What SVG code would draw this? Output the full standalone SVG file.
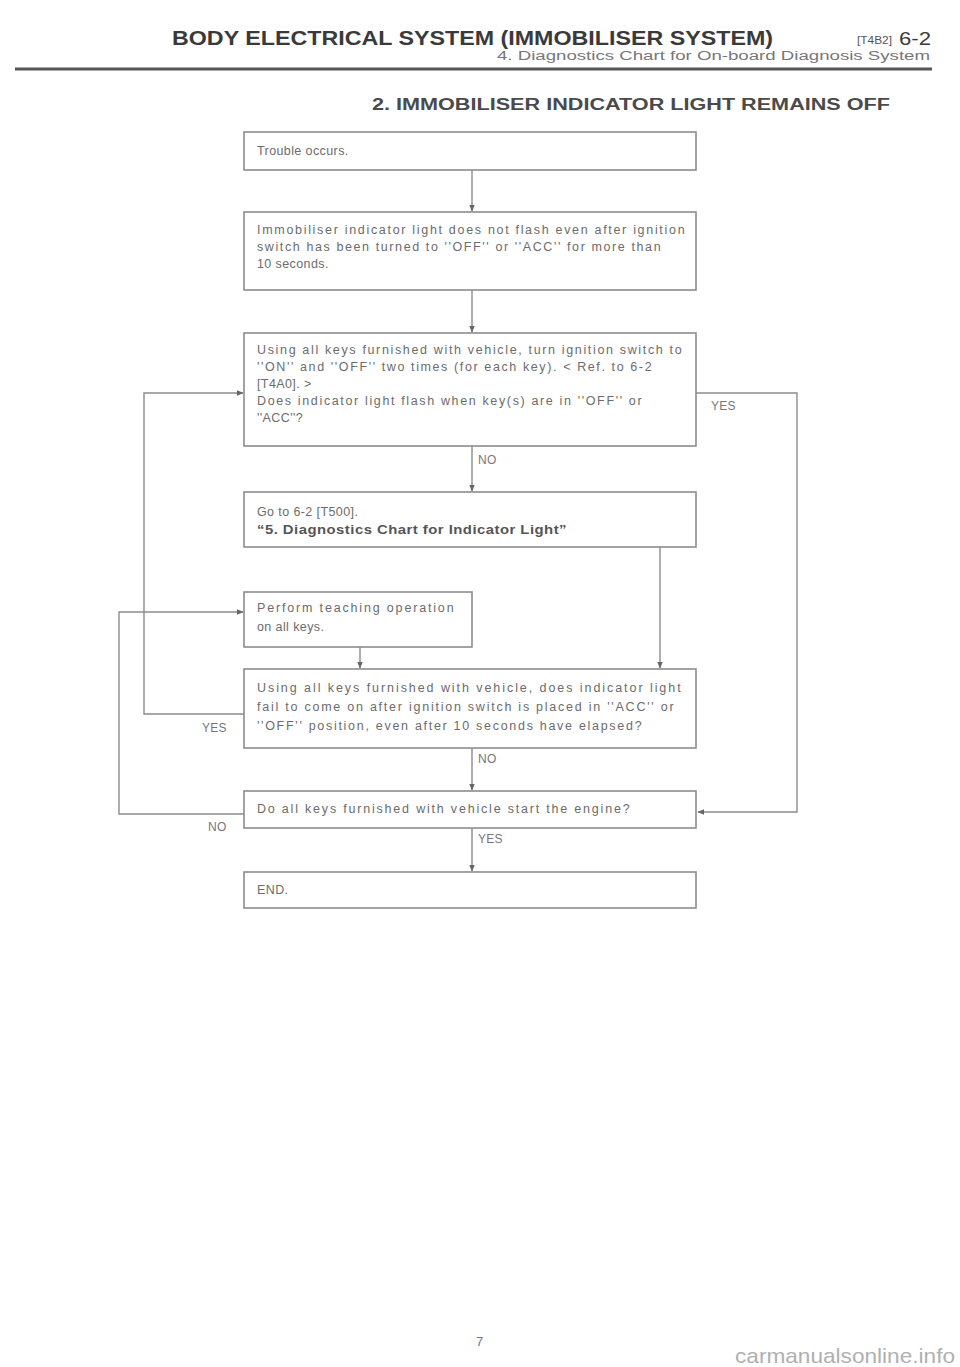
<svg xmlns="http://www.w3.org/2000/svg" width="960" height="1367" viewBox="0 0 960 1367">
<defs>
<marker id="ah" viewBox="0 0 10 10" refX="9" refY="5" markerWidth="7" markerHeight="7" orient="auto" markerUnits="userSpaceOnUse">
<path d="M0,1 L10,5 L0,9 z" fill="#666"/>
</marker>
<style>
.box{fill:#fff;stroke:#8c8c8c;stroke-width:1.6}
.t{font-family:"Liberation Sans",Arial,sans-serif;font-size:12.5px;fill:#6c6c6c;letter-spacing:0.4px}
.b{font-weight:bold;fill:#555}
.lbl{font-family:"Liberation Sans",Arial,sans-serif;font-size:12px;fill:#777;letter-spacing:0.3px}
.ca{fill:none;stroke:#8c8c8c;stroke-width:1.4;marker-end:url(#ah)}
</style>
</defs>
<rect width="960" height="1367" fill="#fff"/>

<g id="header">
<text x="172" y="45" font-family="Liberation Sans,Arial,sans-serif" font-size="20" font-weight="bold" fill="#3a3a3a" textLength="601" lengthAdjust="spacingAndGlyphs">BODY ELECTRICAL SYSTEM (IMMOBILISER SYSTEM)</text>
<text x="857" y="44" font-family="Liberation Sans,Arial,sans-serif" font-size="10" fill="#555" textLength="35" lengthAdjust="spacingAndGlyphs">[T4B2]</text>
<text x="899" y="45" font-family="Liberation Sans,Arial,sans-serif" font-size="19" fill="#3a3a3a" textLength="32" lengthAdjust="spacingAndGlyphs">6-2</text>
<text x="497" y="60" font-family="Liberation Sans,Arial,sans-serif" font-size="12.5" fill="#777" textLength="433" lengthAdjust="spacingAndGlyphs">4. Diagnostics Chart for On-board Diagnosis System</text>
<line x1="15" y1="69" x2="932" y2="69" stroke="#555" stroke-width="3"/>
<text x="372" y="110" font-family="Liberation Sans,Arial,sans-serif" font-size="16" font-weight="bold" fill="#4a4a4a" textLength="518" lengthAdjust="spacingAndGlyphs">2. IMMOBILISER INDICATOR LIGHT REMAINS OFF</text>
</g>

<g id="connectors">
<path class="ca" d="M472,170 V211"/>
<path class="ca" d="M472,290 V332"/>
<path class="ca" d="M472,446 V491"/>
<path class="ca" d="M695,393 H797 V812 H698"/>
<path class="ca" d="M660,547 V668"/>
<path class="ca" d="M360,647 V668"/>
<path class="ca" d="M244,714 H144 V393 H243"/>
<path class="ca" d="M472,748 V790"/>
<path class="ca" d="M244,814 H119 V612 H243"/>
<path class="ca" d="M472,828 V871"/>
<text class="lbl" x="478" y="464">NO</text>
<text class="lbl" x="711" y="410">YES</text>
<text class="lbl" x="202" y="732">YES</text>
<text class="lbl" x="478" y="763">NO</text>
<text class="lbl" x="208" y="831">NO</text>
<text class="lbl" x="478" y="843">YES</text>
</g>

<g id="n1">
<rect class="box" x="244" y="132" width="452" height="38"/>
<text class="t" x="257" y="155">Trouble occurs.</text>
</g>

<g id="n2">
<rect class="box" x="244" y="212" width="452" height="78"/>
<text class="t" x="257" y="234" textLength="428" lengthAdjust="spacing">Immobiliser indicator light does not flash even after ignition</text>
<text class="t" x="257" y="251" textLength="404" lengthAdjust="spacing">switch has been turned to ''OFF'' or ''ACC'' for more than</text>
<text class="t" x="257" y="268">10 seconds.</text>
</g>

<g id="n3">
<rect class="box" x="244" y="333" width="452" height="113"/>
<text class="t" x="257" y="354" textLength="425" lengthAdjust="spacing">Using all keys furnished with vehicle, turn ignition switch to</text>
<text class="t" x="257" y="371" textLength="395" lengthAdjust="spacing">''ON'' and ''OFF'' two times (for each key).  &lt; Ref. to 6-2</text>
<text class="t" x="257" y="388">[T4A0]. &gt;</text>
<text class="t" x="257" y="405" textLength="385" lengthAdjust="spacing">Does indicator light flash when key(s) are in ''OFF'' or</text>
<text class="t" x="257" y="422">''ACC''?</text>
</g>

<g id="n4">
<rect class="box" x="244" y="492" width="452" height="55"/>
<text class="t" x="257" y="516">Go to 6-2 [T500].</text>
<text class="t b" x="257" y="534" textLength="310" lengthAdjust="spacingAndGlyphs">“5. Diagnostics Chart for Indicator Light”</text>
</g>

<g id="n5">
<rect class="box" x="244" y="592" width="228" height="55"/>
<text class="t" x="257" y="612" textLength="197" lengthAdjust="spacing">Perform teaching operation</text>
<text class="t" x="257" y="631">on all keys.</text>
</g>

<g id="n6">
<rect class="box" x="244" y="669" width="452" height="79"/>
<text class="t" x="257" y="692" textLength="424" lengthAdjust="spacing">Using all keys furnished with vehicle, does indicator light</text>
<text class="t" x="257" y="711" textLength="417" lengthAdjust="spacing">fail to come on after ignition switch is placed in ''ACC'' or</text>
<text class="t" x="257" y="730" textLength="385" lengthAdjust="spacing">''OFF'' position, even after 10 seconds have elapsed?</text>
</g>

<g id="n7">
<rect class="box" x="244" y="791" width="452" height="37"/>
<text class="t" x="257" y="813" textLength="373" lengthAdjust="spacing">Do all keys furnished with vehicle start the engine?</text>
</g>

<g id="n8">
<rect class="box" x="244" y="872" width="452" height="36"/>
<text class="t" x="257" y="894">END.</text>
</g>

<g id="footer">
<text x="476" y="1346" font-family="Liberation Sans,Arial,sans-serif" font-size="13" fill="#777">7</text>
<text x="735" y="1363" font-family="Liberation Sans,Arial,sans-serif" font-size="21" fill="#b0b0b0" textLength="220" lengthAdjust="spacingAndGlyphs">carmanualsonline.info</text>
</g>
</svg>
